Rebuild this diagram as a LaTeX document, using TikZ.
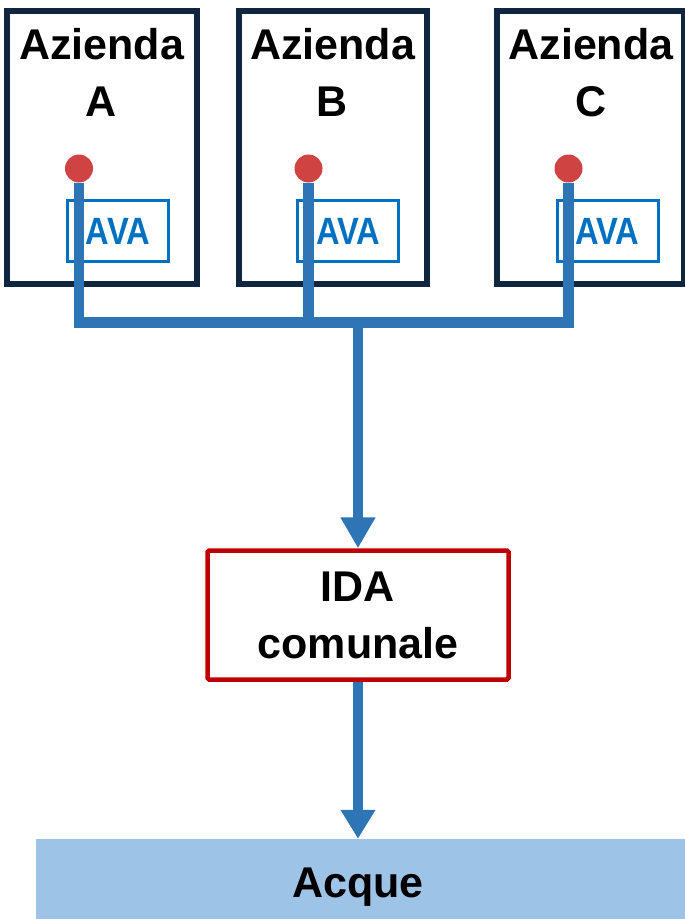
\documentclass[tikz,border=0pt]{standalone}
\usepackage{fontspec}
\setmainfont{Liberation Sans}
\newfontfamily\avafont{Liberation Sans Bold}[FakeStretch=0.86]
\usepackage{tikz}
\usetikzlibrary{arrows.meta}

\definecolor{navy}{HTML}{10253F}
\definecolor{pipeblue}{HTML}{2E75B6}
\definecolor{dotred}{HTML}{D04343}
\definecolor{avablue}{HTML}{0070C0}
\definecolor{idared}{HTML}{C00000}
\definecolor{acqueblue}{HTML}{9DC3E6}

\tikzset{
	azbox/.style={draw=navy,line width=6pt,minimum height=273pt,inner sep=0pt},
	azlabel/.style={align=center,font=\fontsize{43}{57}\selectfont\bfseries},
	avabox/.style={draw=avablue,line width=3pt,minimum width=101pt,minimum height=61pt,inner sep=0pt,text=avablue,font=\avafont\fontsize{38}{40}\selectfont},
	pdot/.style={circle,fill=dotred,minimum size=28pt,inner sep=0pt},
	pipe/.style={pipeblue,line width=10.5pt},
}

\begin{document}
\begin{tikzpicture}[x=1pt,y=-1pt]
						\useasboundingbox (0,0) rectangle (685,919);
						% aziende
						\node[azbox,minimum width=190pt] (azA) at (102,147) {};
						\node[azbox,minimum width=188.5pt] (azB) at (332.75,147) {};
						\node[azbox,minimum width=187pt] (azC) at (590.5,147) {};
						\node[azlabel] (labA) at (101.5,72.9) {Azienda\\A};
						\node[azlabel] (labB) at (332.5,72.9) {Azienda\\B};
						\node[azlabel] (labC) at (591,72.9) {Azienda\\C};
						\node[avabox] (avaA) at (118,231) {AVA};
						\node[avabox] (avaB) at (348.3,231) {AVA};
						\node[avabox] (avaC) at (607.5,231) {AVA};
						\node[pdot] (dotA) at (79,168.5) {};
						\node[pdot] (dotB) at (308.5,168.5) {};
						\node[pdot] (dotC) at (568.5,168.5) {};
						% depuratore e corpo idrico
						\node[draw=idared,line width=4.5pt,rounded corners=1.5pt,minimum width=301pt,minimum height=129pt,
							align=center,font=\fontsize{43}{57}\selectfont\bfseries] (ida) at (358,615) {IDA\\comunale};
						\node[fill=acqueblue,minimum width=644pt,minimum height=96pt,inner sep=0pt,
							font=\fontsize{43}{50}\selectfont\bfseries] (acque) at (358,887) {Acque};
						\fill[acqueblue] (acque.north east) rectangle ([xshift=20pt]acque.south east); % fino al bordo
						\coordinate (hub) at (358,322.5);
						% collettore
						\draw[pipe] (dotA.south) |- (dotC.south |- hub) -- (dotC.south);
						\draw[pipe] (dotB.south) -- (dotB.south |- hub);
						\draw[pipe,-{Triangle[width=33pt,length=31pt]}] (hub) -- (ida);
						\draw[pipe,-{Triangle[width=33pt,length=29pt]}] (ida) -- (acque);
				\end{tikzpicture}
\end{document}
